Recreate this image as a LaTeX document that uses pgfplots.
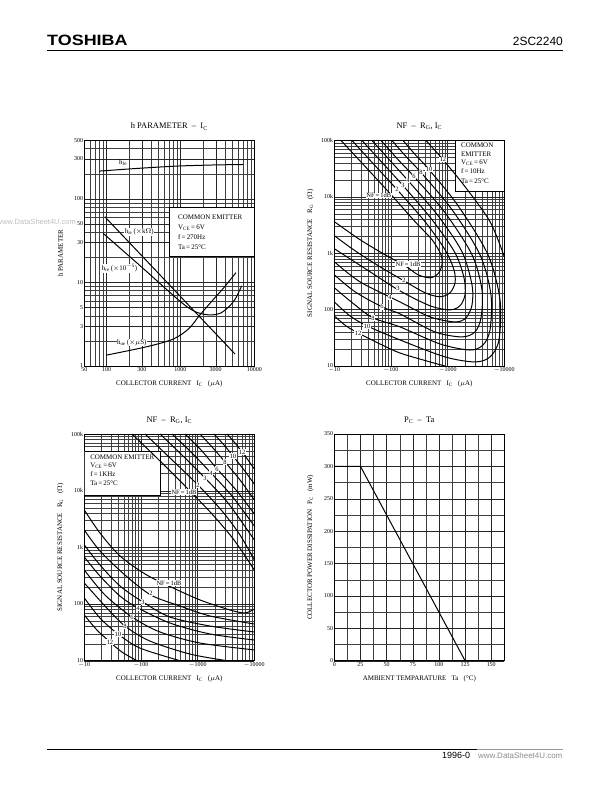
\documentclass[border=0pt]{standalone}
\usepackage{fontspec}
\setmainfont{Liberation Serif}
\newfontfamily\hsans{Liberation Sans}
\usepackage{pgfplots}
\pgfplotsset{compat=1.18}

\newcommand{\sub}[1]{\textsubscript{#1}}

\pgfplotsset{
  sheet/.style={
    scale only axis, anchor=south west, width=170bp,
    axis line style={line width=0.7pt},
    grid=both,
    major grid style={black!85, line width=0.3pt},
    minor grid style={black!75, line width=0.25pt},
    major tick length=0pt, minor tick length=0pt,
    tick label style={font=\fontsize{6}{6.5}\selectfont},
    xticklabel style={inner sep=1.5pt},
    yticklabel style={inner sep=1pt},
    title style={font=\fontsize{8.5}{9}\selectfont, at={(axis description cs:0.5,1.035)}, anchor=center},
    xlabel style={font=\fontsize{7}{7.5}\selectfont, at={(axis description cs:0.5,-0.08)}, anchor=center},
    ylabel style={font=\fontsize{7}{7.5}\selectfont, at={(axis description cs:-0.14,0.5)}, anchor=center},
    /pgf/number format/assume math mode=true,
  },
  decades/.style={
    minor xtick={20,30,40,50,60,70,80,90,200,300,400,500,600,700,800,900,2000,3000,4000,5000,6000,7000,8000,9000},
    minor ytick={20,30,40,50,60,70,80,90,200,300,400,500,600,700,800,900,2000,3000,4000,5000,6000,7000,8000,9000,20000,30000,40000,50000,60000,70000,80000,90000},
  },
  nfline/.style={black, line width=1pt, smooth, tension=0.5, mark=none},
}
\tikzset{
  lbl/.style={fill=white, inner sep=0.5pt, font=\fontsize{6.5}{7}\selectfont},
  note/.style={anchor=west, inner sep=0pt, font=\fontsize{7}{7.5}\selectfont},
}

\begin{document}
\begin{tikzpicture}[x=1bp,y=1bp]
\fill[white] (0,0) rectangle (612,792);
\path[use as bounding box] (0,0) rectangle (612,792);

% page header and footer
\node[anchor=base west, inner sep=0, xscale=1.2, font=\hsans\bfseries\fontsize{15}{15}\selectfont] at (47,746) {TOSHIBA};
\node[anchor=base east, inner sep=0, font=\hsans\fontsize{12}{12}\selectfont] at (563,746) {2SC2240};
\draw[line width=0.8pt] (47,742) -- (563,742);
\draw[line width=0.7pt] (47,43) -- (477,43);
\draw[line width=0.7pt, black!40] (477,43) -- (563,43);
\node[anchor=base west, inner sep=0, font=\hsans\fontsize{9}{9}\selectfont] at (442,33) {1996-0};
\node[anchor=base west, inner sep=0, text=black!45, font=\hsans\fontsize{8}{8}\selectfont] at (478,33) {www.DataSheet4U.com};
\node[anchor=east, inner sep=0, text=black!25, font=\hsans\fontsize{7.5}{8}\selectfont] at (76,570) {www.DataSheet4U.com};

% ---------- h parameter - Ic
\begin{axis}[sheet, at={(84.3bp,426bp)}, height=225.5bp,
  xmode=log, ymode=log, xmin=50, xmax=10000, ymin=1, ymax=500,
  xtick={50,100,300,1000,3000,10000}, xticklabels={50,100,300,1000,3000,10000},
  minor xtick={60,70,80,90,200,400,500,600,700,800,900,2000,4000,5000,6000,7000,8000,9000},
  ytick={1,3,5,10,30,50,100,300,500}, yticklabels={1,3,5,10,30,50,100,300,500},
  minor ytick={2,4,6,7,8,9,20,40,60,70,80,90,200,400},
  title={h PARAMETER \ -- \ I\sub{C}},
  xlabel={COLLECTOR CURRENT \ \ I\sub{C} \ \ ($\mu$A)},
  ylabel={h PARAMETER}]
\addplot[nfline] coordinates {(80,215)(200,228)(500,240)(1000,248)(3000,255)(7000,258)};
\addplot[nfline] coordinates {(95,61)(5480,1.39)};
\addplot[nfline] coordinates {(90,38.7)(300,15.2)(1000,5.9)(1600,4.45)(2500,4.08)(3500,4.3)(4500,5.1)(5500,6.3)(6750,9.1)};
\addplot[nfline] coordinates {(100,1.35)(350,1.7)(800,2.1)(1300,2.8)(1800,4.0)(2500,5.6)(3800,8.5)(5650,13.1)};
\draw[fill=white, line width=0.5pt] (rel axis cs:0.5,0.485) rectangle (rel axis cs:1,0.704);
\node[note] at (rel axis cs:0.551,0.659) {COMMON EMITTER};
\node[note] at (rel axis cs:0.551,0.615) {V\sub{CE}\,=\,6V};
\node[note] at (rel axis cs:0.551,0.571) {f\,=\,270Hz};
\node[note] at (rel axis cs:0.551,0.526) {Ta\,=\,25°C};
\node[font=\fontsize{7}{7.5}\selectfont, inner sep=0.5pt] at (rel axis cs:0.228,0.9) {h\sub{fe}};
\node[lbl, font=\fontsize{7}{7.5}\selectfont] at (rel axis cs:0.323,0.594) {h\sub{ie}\,($\times$k$\Omega$)};
\node[lbl, font=\fontsize{7}{7.5}\selectfont] at (rel axis cs:0.207,0.433) {h\sub{re}\,($\times$10\textsuperscript{$-$5})};
\node[lbl, font=\fontsize{7}{7.5}\selectfont] at (rel axis cs:0.279,0.103) {h\sub{oe}\,($\times\mu$S)};
\end{axis}

% ---------- NF - Rg, Ic (10 Hz)
\begin{axis}[sheet, decades, at={(334.3bp,426bp)}, height=225.5bp,
  xmode=log, ymode=log, xmin=10, xmax=10000, ymin=10, ymax=100000,
  xtick={10,100,1000,10000}, xticklabels={$-$10,$-$100,$-$1000,$-$10000},
  ytick={10,100,1000,10000,100000}, yticklabels={10,100,1k,10k,100k},
  title={NF \ -- \ R\sub{G}, I\sub{C}},
  xlabel={COLLECTOR CURRENT \ \ I\sub{C} \ \ ($\mu$A)},
  ylabel={SIGNAL SOURCE RESISTANCE \ \ R\sub{G} \ \ ($\Omega$)}]
\draw[fill=white, line width=0.4pt] (rel axis cs:0.71,0.776) rectangle (rel axis cs:1,1);
\node[note] at (rel axis cs:0.745,0.978) {COMMON};
\node[note] at (rel axis cs:0.745,0.939) {EMITTER};
\node[note] at (rel axis cs:0.745,0.902) {V\sub{CE}\,=\,6V};
\node[note] at (rel axis cs:0.745,0.865) {f\,=\,10Hz};
\node[note] at (rel axis cs:0.745,0.820) {Ta\,=\,25°C};
\addplot[nfline] coordinates {(13.1,100000)(39.3,30500)(104,10520)(266,3630)(530,1740)(764,940)(794,625)(676,432)(489,367)(300,415)(177,600)(78.4,940)(28.4,1740)(10,3630)};
\addplot[nfline] coordinates {(20.5,100000)(52.2,35900)(128,13450)(399,3630)(898,1155)(1294,509)(1349,299)(1101,199)(733,169)(399,199)(170,324)(64,575)(23.2,1107)(10,2050)};
\addplot[nfline] coordinates {(30.8,100000)(72.3,39000)(163,15850)(530,3940)(1349,1021)(1945,367)(2023,183)(1652,117)(1101,99)(489,117)(144,215)(42.7,469)(10,1203)};
\addplot[nfline] coordinates {(46.2,100000)(96.1,44100)(200,19450)(676,4640)(1792,1064)(2692,275)(2692,121)(2109,71.3)(1349,60.5)(489,74.3)(144,137)(28.4,311)(10,707)};
\addplot[nfline] coordinates {(66.7,100000)(133,45900)(255,22900)(898,5250)(2692,940)(4036,224)(3882,71.3)(3041,40.2)(1792,32.8)(598,40.2)(144,84)(69.5,112)(23.2,207)(10,415)};
\addplot[nfline] coordinates {(104,100000)(184,52000)(339,27000)(1194,5930)(3724,940)(5821,183)(5598,43.6)(4207,23.6)(2483,19.2)(733,24.6)(144,49.4)(48.2,71.3)(23.2,121)(10,244)};
\addplot[nfline] coordinates {(163,100000)(277,54100)(469,30500)(1524,6980)(5152,940)(8395,149)(8054,29.0)(5598,14.5)(3041,11.8)(898,14.5)(144,29.0)(37.8,51.4)(18.9,77.4)(10,137)};
\addplot[nfline] coordinates {(415,100000)(598,66400)(828,45900)(2023,15200)(5598,3630)(10000,867)};
\addplot[nfline] coordinates {(10,77.4)(16.1,51.4)(26.2,38.6)(64,24.6)(144,17.0)(489,11.8)(898,10)};
\node[lbl, anchor=east] at (axis cs:104,10520) {NF\,=\,1dB};
\node[lbl] at (axis cs:128,13450) {2};
\node[lbl] at (axis cs:163,15850) {3};
\node[lbl] at (axis cs:200,19450) {4};
\node[lbl] at (axis cs:255,22900) {6};
\node[lbl] at (axis cs:339,27000) {8};
\node[lbl] at (axis cs:469,30500) {10};
\node[lbl] at (axis cs:828,45900) {12};
\node[lbl] at (axis cs:200,640) {NF\,=\,1dB};
\node[lbl] at (axis cs:170,330) {2};
\node[lbl] at (axis cs:133,235) {3};
\node[lbl] at (axis cs:96.1,165) {4};
\node[lbl] at (axis cs:69.5,112) {6};
\node[lbl] at (axis cs:48.2,71.3) {8};
\node[lbl] at (axis cs:37.8,51.4) {10};
\node[lbl] at (axis cs:26.2,38.6) {12};
\end{axis}

% ---------- NF - Rg, Ic (1 kHz)
\begin{axis}[sheet, decades, at={(84.3bp,131.3bp)}, height=226.7bp,
  xmode=log, ymode=log, xmin=10, xmax=10000, ymin=10, ymax=100000,
  xtick={10,100,1000,10000}, xticklabels={$-$10,$-$100,$-$1000,$-$10000},
  ytick={10,100,1000,10000,100000}, yticklabels={10,100,1k,10k,100k},
  title={NF \ -- \ R\sub{G}, I\sub{C}},
  xlabel={COLLECTOR CURRENT \ \ I\sub{C} \ \ ($\mu$A)},
  ylabel={SIGNAL SOURCE RESISTANCE \ \ R\sub{G} \ \ ($\Omega$)}]
\draw[fill=white, line width=0.5pt] (rel axis cs:0,0.731) rectangle (rel axis cs:0.445,0.926);
\node[note] at (rel axis cs:0.034,0.899) {COMMON EMITTER};
\node[note] at (rel axis cs:0.034,0.859) {V\sub{CE}\,=\,6V};
\node[note] at (rel axis cs:0.034,0.822) {f\,=\,1KHz};
\node[note] at (rel axis cs:0.034,0.782) {Ta\,=\,25°C};
\addplot[nfline] coordinates {(69.5,100000)(217,33400)(676,10700)(1792,3880)(4385,1350)(10000,400)};
\addplot[nfline] coordinates {(118,100000)(325,37800)(1014,12600)(2692,4390)(5598,1650)(10000,598)};
\addplot[nfline] coordinates {(217,100000)(552,40900)(1349,16700)(3436,6070)(10000,1350)};
\addplot[nfline] coordinates {(353,100000)(794,46200)(1722,20500)(4036,8050)(10000,2380)};
\addplot[nfline] coordinates {(598,100000)(1194,50100)(2197,24200)(4753,10280)(10000,3880)};
\addplot[nfline] coordinates {(1101,100000)(1866,56600)(3041,32100)(5598,15450)(10000,6850)};
\addplot[nfline] coordinates {(1945,100000)(2917,64000)(4207,40900)(6577,23200)(10000,13100)};
\addplot[nfline] coordinates {(3296,100000)(4560,69500)(6067,48200)(7745,34800)(10000,24200)};
\addplot[nfline] coordinates {(10,4560)(18.9,1792)(42.7,705)(118,339)(312,208)(1101,118)(3724,78.5)(6855,69.5)(10000,81.7)};
\addplot[nfline] coordinates {(10,2023)(18.9,863)(52.2,325)(150,144)(489,92.2)(1652,61.5)(10000,44.4)};
\addplot[nfline] coordinates {(10,1101)(18.9,489)(42.7,208)(109,108)(325,59)(1652,40.9)(10000,32.1)};
\addplot[nfline] coordinates {(10,676)(18.9,312)(42.7,138)(88.7,85.1)(325,46.2)(1652,29.6)(10000,23.2)};
\addplot[nfline] coordinates {(10,398)(23.2,144)(69.5,59)(217,32.1)(1101,20.5)(10000,15.5)};
\addplot[nfline] coordinates {(10,235)(23.2,92.2)(52.2,40.9)(144,22.2)(733,13.1)(3296,10)};
\addplot[nfline] coordinates {(10,128)(18.9,56.6)(39.3,29.6)(96.1,16.7)(489,10)};
\addplot[nfline] coordinates {(10,64)(16.7,34.8)(28.4,21.4)(46.2,14.2)(85.1,10)};
\node[lbl] at (axis cs:574,9490) {NF\,=\,1dB};
\node[lbl] at (axis cs:1014,12600) {2};
\node[lbl] at (axis cs:1349,16700) {3};
\node[lbl] at (axis cs:1722,20500) {4};
\node[lbl] at (axis cs:2197,24200) {6};
\node[lbl] at (axis cs:3041,32100) {8};
\node[lbl] at (axis cs:4207,40900) {10};
\node[lbl] at (axis cs:6067,48200) {12};
\node[lbl] at (axis cs:312,235) {NF\,=\,1dB};
\node[lbl] at (axis cs:150,157) {2};
\node[lbl] at (axis cs:109,108) {3};
\node[lbl] at (axis cs:88.7,85.1) {4};
\node[lbl] at (axis cs:69.5,59) {6};
\node[lbl] at (axis cs:52.2,40.9) {8};
\node[lbl] at (axis cs:39.3,29.6) {10};
\node[lbl] at (axis cs:28.4,21.4) {12};
\end{axis}

% ---------- Pc - Ta
\begin{axis}[sheet, at={(334.3bp,131.3bp)}, height=226.7bp,
  xmin=0, xmax=162.5, ymin=0, ymax=350,
  xtick={0,25,...,150}, minor xtick={12.5,37.5,...,162.5},
  ytick={0,50,...,350}, minor ytick={25,75,...,325},
  title={P\sub{C} \ -- \ Ta},
  xlabel={AMBIENT TEMPARATURE \ \ Ta \ \ (°C)},
  ylabel={COLLECTOR POWER DISSIPATION \ \ P\sub{C} \ \ (mW)}]
\addplot[black, line width=1pt, mark=none] coordinates {(0,300)(25,300)(125,0)};
\end{axis}
\end{tikzpicture}
\end{document}
